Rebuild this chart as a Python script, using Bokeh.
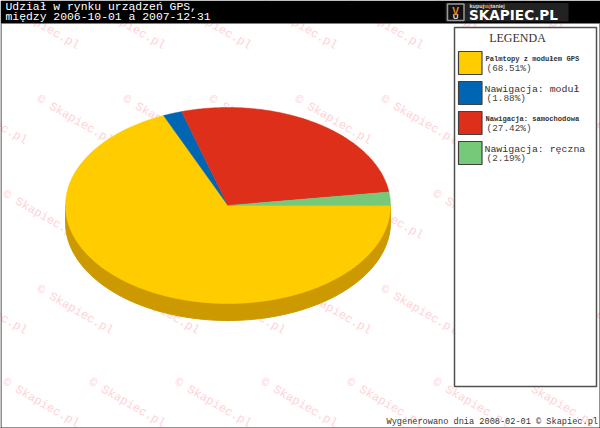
from math import pi, cos, sin
from bokeh.plotting import figure
from bokeh.models import Range1d
from bokeh.core.properties import value
from bokeh.embed import file_html
from bokeh.resources import INLINE

title_lines = ["Udział w rynku urządzeń GPS,", "między 2006-10-01 a 2007-12-31"]
categories = ["Palmtopy z modułem GPS", "Nawigacja: moduł", "Nawigacja: samochodowa", "Nawigacja: ręczna"]
shares = [68.51, 1.88, 27.42, 2.19]
colors = ["#FFCC00", "#0066B3", "#DD2F19", "#77C97A"]
legend_title = "LEGENDA"
footer = "Wygenerowano dnia 2008-02-01 © Skapiec.pl"
watermark = "© Skapiec.pl"

W, H = 600, 428
p = figure(width=W, height=H, x_range=Range1d(0, 600), y_range=Range1d(428, 0),
           output_backend="svg", toolbar_location=None, min_border=0,
           background_fill_color="#FFFFFF", border_fill_color="#FFFFFF", outline_line_color=None)
p.xaxis.visible = False
p.yaxis.visible = False
p.grid.visible = False
MONO = value("Liberation Mono")
SANS = value("Liberation Sans")

# watermark
wm_x, wm_y = [], []
for row, y in enumerate([3, 98, 193, 288, 381]):
    x = 3 if row % 2 == 0 else 37
    x -= 86
    while x < 600:
        wm_x.append(x); wm_y.append(y); x += 86
p.text(wm_x, wm_y, text=[watermark] * len(wm_x), angle=-30, angle_units="deg", text_font=MONO,
       text_font_size="12px", text_color="#FFD2D6", text_baseline="middle", text_align="left")

# pie
CX, CY, RX, RY, DEPTH = 227.5, 205, 162.5, 98, 17
def arc(a0, a1, dy=0, n=160):
    return [(CX + RX * cos(a0 + (a1 - a0) * i / n), CY + RY * sin(a0 + (a1 - a0) * i / n) + dy) for i in range(n + 1)]

top = arc(0, pi)
side = top + [(x, y + DEPTH) for x, y in reversed(top)]
p.patch([q[0] for q in side], [q[1] for q in side], fill_color="#CC9900", line_color="#CC9900")
a = 0.0
for share, col in zip(shares, colors):
    b = a + share / 100 * 2 * pi
    pts = [(CX, CY)] + arc(a, b)
    p.patch([q[0] for q in pts], [q[1] for q in pts], fill_color=col, line_color=col, line_width=0.5)
    a = b

# header
p.quad(left=0, right=600, top=0, bottom=23, fill_color="#000000", line_color=None)
p.text([5, 5], [6.5, 16.5], text=title_lines, text_font=MONO, text_font_size="11.4px",
       text_color="#FFFFFF", text_baseline="alphabetic")

# logo
p.quad(left=445, right=568, top=2.5, bottom=21, fill_color="#222222", line_color=None)
p.quad(left=447, right=463.5, top=3.5, bottom=20, fill_color="#111111", line_color="#999999", line_width=1.5)
p.text([455.2], [10.5], text=["V"], text_font=SANS, text_font_size="10px",
       text_color="#F09020", text_align="center", text_baseline="alphabetic", text_font_style="bold")
p.text([455.2], [15.5], text=["U"], text_font=SANS, text_font_size="8px",
       text_color="#DDDDDD", text_align="center", text_baseline="alphabetic", text_font_style="bold")
p.text([469, 482, 490], [5.5, 5.5, 5.5], text=["kupuj", "naj", "taniej"], text_font=SANS, text_font_size="5.5px",
       text_color=["#DDDDDD", "#F09020", "#DDDDDD"], text_baseline="alphabetic", text_font_style="bold")
p.text([468.5], [14.5], text=["SKAPIEC.PL"], text_font=value("DejaVu Sans"), text_font_size="13.6px",
       text_color="#FFFFFF", text_baseline="alphabetic", text_font_style="bold")

# legend
p.quad(left=454, right=596, top=27, bottom=386, fill_color="#FFFFFF", line_color="#505050", line_width=1.5)
p.text([517], [37], text=[legend_title], text_font=value("Liberation Serif"), text_font_size="12px",
       text_color="#333333", text_align="center", text_baseline="alphabetic")
for i, (cat, share, col) in enumerate(zip(categories, shares, colors)):
    y0 = 51 + 30 * i
    p.quad(left=458, right=481.5, top=y0, bottom=y0 + 23, fill_color=col, line_color="#404040", line_width=1.2)
    small = len(cat) > 20
    p.text([485 if small else 484], [y0 + (7 if small else 7.5)], text=[cat], text_font=MONO,
           text_font_size=f"{7.1 if small else 9.9}px", text_color="#333333",
           text_font_style="bold" if small else "normal", text_baseline="alphabetic")
    p.text([486], [y0 + 17], text=[f"({share:.2f}%)"], text_font=MONO, text_font_size="9.4px",
           text_color="#444444", text_baseline="alphabetic")

# footer and frame
p.text([386], [421], text=[footer], text_font=MONO, text_font_size="8.6px",
       text_color="#333333", text_baseline="alphabetic")
p.segment([0.5, 0, 599.5], [23, 427.5, 23], [0.5, 600, 599.5], [428, 427.5, 428], line_color="#222222", line_width=1)

open("out.html", "w").write(file_html(p, INLINE))
